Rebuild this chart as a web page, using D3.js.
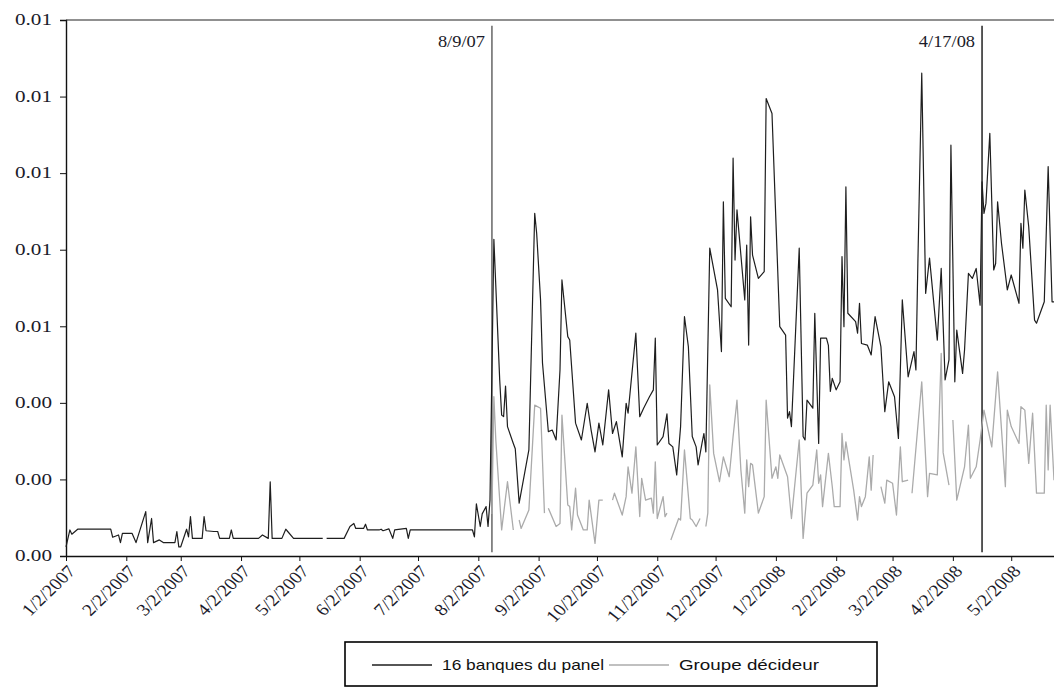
<!DOCTYPE html>
<html>
<head>
<meta charset="utf-8">
<script src="https://cdn.jsdelivr.net/npm/d3@7"></script>
<style>
  body { margin: 0; background: #fff; }
  svg { display: block; }
</style>
</head>
<body>
<svg id="chart" width="1054" height="687"></svg>
<script>
// ── Data ─────────────────────────────────────────────────────────
const monthTicks = ['1/2/2007', '2/2/2007', '3/2/2007', '4/2/2007', '5/2/2007', '6/2/2007',
  '7/2/2007', '8/2/2007', '9/2/2007', '10/2/2007', '11/2/2007', '12/2/2007',
  '1/2/2008', '2/2/2008', '3/2/2008', '4/2/2008', '5/2/2008'];

const yTicks = [0, 0.002, 0.004, 0.006, 0.008, 0.010, 0.012, 0.014];

const events = [
  { label: '8/9/07', date: '2007-08-09', color: '#666' },
  { label: '4/17/08', date: '2008-04-17', color: '#222' },
];

const seriesNames = ['16 banques du panel', 'Groupe décideur'];

// 16 banques du panel (black line); null = gap in the data
const panelSeries = [
  ['2007-01-02', 0.00024], ['2007-01-04', 0.00068], ['2007-01-05', 0.00057], ['2007-01-08', 0.0007],
  ['2007-01-25', 0.0007], ['2007-01-26', 0.00049], ['2007-01-29', 0.00055], ['2007-01-30', 0.00035],
  ['2007-01-31', 0.00059], ['2007-02-05', 0.00059], ['2007-02-07', 0.00035], ['2007-02-12', 0.00116],
  ['2007-02-13', 0.00035], ['2007-02-15', 0.00098], ['2007-02-16', 0.00035], ['2007-02-19', 0.00042],
  ['2007-02-21', 0.00035], ['2007-02-27', 0.00035], ['2007-02-28', 0.00064], ['2007-03-01', 0.00024],
  ['2007-03-02', 0.00024], ['2007-03-05', 0.0007], ['2007-03-06', 0.0005], ['2007-03-07', 0.00103],
  ['2007-03-08', 0.00046], ['2007-03-13', 0.00046], ['2007-03-14', 0.00103], ['2007-03-15', 0.00066],
  ['2007-03-19', 0.00064], ['2007-03-21', 0.00064], ['2007-03-22', 0.00046], ['2007-03-27', 0.00046],
  ['2007-03-28', 0.00068], ['2007-03-29', 0.00046], ['2007-04-11', 0.00046], ['2007-04-13', 0.00055],
  ['2007-04-16', 0.00046], ['2007-04-17', 0.00194], ['2007-04-18', 0.00046], ['2007-04-23', 0.00046],
  ['2007-04-25', 0.0007], ['2007-04-26', 0.00064], ['2007-04-29', 0.00046], ['2007-05-14', 0.00046],
  ['2007-05-15', null], ['2007-05-16', 0.00046], ['2007-05-25', 0.00046], ['2007-05-28', 0.00077],
  ['2007-05-30', 0.00085], ['2007-05-31', 0.00072], ['2007-06-04', 0.00072], ['2007-06-05', 0.00083],
  ['2007-06-06', 0.00068], ['2007-06-12', 0.00068], ['2007-06-13', 0.0007], ['2007-06-14', 0.00066],
  ['2007-06-17', 0.00071], ['2007-06-19', 0.00046], ['2007-06-20', 0.00068], ['2007-06-26', 0.00072],
  ['2007-06-27', 0.00046], ['2007-06-28', 0.00068], ['2007-07-30', 0.00068], ['2007-07-31', 0.0005],
  ['2007-08-01', 0.00136], ['2007-08-03', 0.00077], ['2007-08-04', 0.0011], ['2007-08-06', 0.00129],
  ['2007-08-07', 0.00077], ['2007-08-08', 0.00146], ['2007-08-10', 0.00827], ['2007-08-13', 0.0046],
  ['2007-08-14', 0.00368], ['2007-08-15', 0.00364], ['2007-08-16', 0.00444], ['2007-08-17', 0.00338],
  ['2007-08-20', 0.00294], ['2007-08-21', 0.0028], ['2007-08-23', 0.00138], ['2007-08-28', 0.00277],
  ['2007-08-31', 0.00895], ['2007-09-01', 0.00843], ['2007-09-03', 0.00669], ['2007-09-04', 0.00504],
  ['2007-09-07', 0.00325], ['2007-09-09', 0.00329], ['2007-09-11', 0.00303], ['2007-09-13', 0.00486],
  ['2007-09-14', 0.00721], ['2007-09-17', 0.00573], ['2007-09-18', 0.00564], ['2007-09-21', 0.00347],
  ['2007-09-24', 0.00303], ['2007-09-27', 0.00399], ['2007-09-29', 0.00329], ['2007-10-01', 0.00272],
  ['2007-10-03', 0.00347], ['2007-10-05', 0.0029], ['2007-10-08', 0.00434], ['2007-10-10', 0.0032],
  ['2007-10-12', 0.00351], ['2007-10-15', 0.00259], ['2007-10-17', 0.00399], ['2007-10-18', 0.00373],
  ['2007-10-19', 0.00425], ['2007-10-22', 0.00582], ['2007-10-24', 0.00364], ['2007-10-26', 0.00386],
  ['2007-10-29', 0.00416], ['2007-10-31', 0.00434], ['2007-11-01', 0.00569], ['2007-11-02', 0.0029],
  ['2007-11-05', 0.00312], ['2007-11-07', 0.00371], ['2007-11-08', 0.00294], ['2007-11-10', 0.00285],
  ['2007-11-12', 0.00212], ['2007-11-14', 0.00338], ['2007-11-16', 0.00625], ['2007-11-18', 0.00547],
  ['2007-11-20', 0.00312], ['2007-11-22', 0.00285], ['2007-11-23', 0.00238], ['2007-11-25', 0.00294],
  ['2007-11-26', 0.0032], ['2007-11-27', 0.00272], ['2007-11-29', 0.00804], ['2007-12-03', 0.00695],
  ['2007-12-05', 0.00534], ['2007-12-06', 0.00925], ['2007-12-07', 0.00673], ['2007-12-10', 0.00651],
  ['2007-12-11', 0.01039], ['2007-12-12', 0.00773], ['2007-12-13', 0.00904], ['2007-12-17', 0.00669],
  ['2007-12-18', 0.00812], ['2007-12-19', 0.00551], ['2007-12-20', 0.00886], ['2007-12-21', 0.00786],
  ['2007-12-24', 0.00725], ['2007-12-27', 0.00743], ['2007-12-28', 0.01195], ['2007-12-31', 0.01156],
  ['2008-01-04', 0.00599], ['2008-01-07', 0.00577], ['2008-01-08', 0.0036], ['2008-01-09', 0.00377],
  ['2008-01-10', 0.00338], ['2008-01-14', 0.00804], ['2008-01-16', 0.00312], ['2008-01-17', 0.00303],
  ['2008-01-18', 0.00407], ['2008-01-21', 0.00386], ['2008-01-22', 0.00634], ['2008-01-24', 0.00294],
  ['2008-01-25', 0.00569], ['2008-01-28', 0.00569], ['2008-01-29', 0.0055], ['2008-01-30', 0.0043],
  ['2008-01-31', 0.00464], ['2008-02-02', 0.00434], ['2008-02-04', 0.00455], ['2008-02-05', 0.00782],
  ['2008-02-06', 0.00599], ['2008-02-07', 0.00964], ['2008-02-08', 0.00634], ['2008-02-12', 0.00612],
  ['2008-02-13', 0.00582], ['2008-02-14', 0.0066], ['2008-02-15', 0.00555], ['2008-02-18', 0.00551],
  ['2008-02-20', 0.00525], ['2008-02-22', 0.00625], ['2008-02-25', 0.00547], ['2008-02-27', 0.00377],
  ['2008-02-29', 0.00455], ['2008-03-03', 0.00416], ['2008-03-05', 0.00307], ['2008-03-07', 0.00669],
  ['2008-03-10', 0.00468], ['2008-03-13', 0.00534], ['2008-03-14', 0.00486], ['2008-03-15', 0.00764],
  ['2008-03-17', 0.01261], ['2008-03-19', 0.00686], ['2008-03-21', 0.00778], ['2008-03-25', 0.00564],
  ['2008-03-27', 0.00751], ['2008-03-29', 0.0046], ['2008-03-31', 0.00512], ['2008-04-01', 0.01073],
  ['2008-04-03', 0.00455], ['2008-04-04', 0.0059], ['2008-04-07', 0.00477], ['2008-04-08', 0.00538],
  ['2008-04-10', 0.00738], ['2008-04-12', 0.00725], ['2008-04-14', 0.00751], ['2008-04-16', 0.00655],
  ['2008-04-17', 0.00977], ['2008-04-18', 0.00895], ['2008-04-19', 0.00921], ['2008-04-21', 0.01104],
  ['2008-04-23', 0.00747], ['2008-04-24', 0.00764], ['2008-04-25', 0.00925], ['2008-04-27', 0.00817],
  ['2008-04-30', 0.00695], ['2008-05-02', 0.00734], ['2008-05-06', 0.0066], ['2008-05-07', 0.00869],
  ['2008-05-08', 0.00804], ['2008-05-09', 0.00956], ['2008-05-11', 0.0086], ['2008-05-14', 0.00616],
  ['2008-05-15', 0.00608], ['2008-05-19', 0.00664], ['2008-05-21', 0.01017], ['2008-05-23', 0.00664],
  ['2008-05-24', 0.00664],
];

// Groupe décideur (grey line); null = gap in the data
const deciderSeries = [
  ['2007-08-09', 0.0011], ['2007-08-10', 0.00416], ['2007-08-11', 0.00303], ['2007-08-14', 0.00068],
  ['2007-08-17', 0.00194], ['2007-08-20', 0.00068], ['2007-08-21', null], ['2007-08-23', 0.00094],
  ['2007-08-24', 0.00072], ['2007-08-28', 0.0012], ['2007-08-31', 0.00394], ['2007-09-03', 0.00386],
  ['2007-09-05', 0.00112], ['2007-09-06', null], ['2007-09-07', 0.00125], ['2007-09-11', 0.00077],
  ['2007-09-13', 0.00085], ['2007-09-14', 0.00368], ['2007-09-17', 0.00133], ['2007-09-18', 0.00129],
  ['2007-09-19', 0.00068], ['2007-09-21', 0.00177], ['2007-09-22', 0.00107], ['2007-09-25', 0.00068],
  ['2007-09-27', 0.00068], ['2007-09-28', 0.00146], ['2007-10-01', 0.00033], ['2007-10-03', 0.00146],
  ['2007-10-05', 0.00146], ['2007-10-07', null], ['2007-10-10', 0.00146], ['2007-10-11', 0.00164],
  ['2007-10-15', 0.00107], ['2007-10-17', 0.00155], ['2007-10-18', 0.00233], ['2007-10-20', 0.00164],
  ['2007-10-22', 0.00285], ['2007-10-24', 0.00103], ['2007-10-25', 0.00203], ['2007-10-27', 0.00146],
  ['2007-10-30', 0.00151], ['2007-10-31', 0.00112], ['2007-11-01', 0.00246], ['2007-11-02', 0.00098],
  ['2007-11-05', 0.00155], ['2007-11-06', 0.00103], ['2007-11-07', 0.00112], ['2007-11-08', null],
  ['2007-11-09', 0.00042], ['2007-11-13', 0.00098], ['2007-11-14', 0.00094], ['2007-11-16', 0.00277],
  ['2007-11-19', 0.00098], ['2007-11-20', 0.00094], ['2007-11-22', 0.00077], ['2007-11-24', 0.00098],
  ['2007-11-25', null], ['2007-11-27', 0.00077], ['2007-11-28', 0.00112], ['2007-11-29', 0.00447],
  ['2007-12-01', 0.00268], ['2007-12-04', 0.00194], ['2007-12-06', 0.00259], ['2007-12-09', 0.00207],
  ['2007-12-11', 0.00312], ['2007-12-13', 0.00407], ['2007-12-15', 0.00225], ['2007-12-17', 0.00112],
  ['2007-12-18', 0.00251], ['2007-12-19', 0.00181], ['2007-12-20', 0.00242], ['2007-12-21', 0.00238],
  ['2007-12-24', 0.00112], ['2007-12-27', 0.00155], ['2007-12-28', 0.00407], ['2007-12-31', 0.00203],
  ['2008-01-02', 0.00233], ['2008-01-03', 0.00203], ['2008-01-04', 0.00264], ['2008-01-08', 0.00207],
  ['2008-01-10', 0.00098], ['2008-01-14', 0.00303], ['2008-01-16', 0.00046], ['2008-01-18', 0.00164],
  ['2008-01-21', 0.00185], ['2008-01-23', 0.00277], ['2008-01-24', 0.0019], ['2008-01-25', 0.00212],
  ['2008-01-26', 0.00129], ['2008-01-29', 0.00268], ['2008-01-31', 0.00181], ['2008-02-01', 0.00129],
  ['2008-02-04', 0.00129], ['2008-02-05', 0.0032], ['2008-02-06', 0.00251], ['2008-02-07', 0.00298],
  ['2008-02-11', 0.00172], ['2008-02-13', 0.00094], ['2008-02-14', 0.00155], ['2008-02-15', 0.00129],
  ['2008-02-17', 0.00155], ['2008-02-19', 0.00259], ['2008-02-20', 0.00172], ['2008-02-21', 0.00264],
  ['2008-02-23', null], ['2008-02-25', 0.00181], ['2008-02-27', 0.00138], ['2008-02-28', 0.00198],
  ['2008-03-02', 0.0019], ['2008-03-04', 0.00107], ['2008-03-06', 0.00285], ['2008-03-07', 0.00194],
  ['2008-03-10', 0.00198], ['2008-03-11', null], ['2008-03-12', 0.00164], ['2008-03-17', 0.00455],
  ['2008-03-20', 0.00155], ['2008-03-21', 0.00216], ['2008-03-25', 0.00212], ['2008-03-27', 0.00529],
  ['2008-03-28', 0.0027], ['2008-03-31', 0.00185], ['2008-04-01', null], ['2008-04-02', 0.00355],
  ['2008-04-04', 0.00146], ['2008-04-08', 0.00233], ['2008-04-10', 0.00342], ['2008-04-11', 0.00203],
  ['2008-04-14', 0.00233], ['2008-04-16', 0.00303], ['2008-04-18', 0.00381], ['2008-04-22', 0.00285],
  ['2008-04-25', 0.00481], ['2008-04-29', 0.00181], ['2008-04-30', 0.00381], ['2008-05-02', 0.00338],
  ['2008-05-06', 0.00294], ['2008-05-07', 0.0039], ['2008-05-09', 0.00381], ['2008-05-11', 0.00242],
  ['2008-05-13', 0.00373], ['2008-05-15', 0.00164], ['2008-05-19', 0.00164], ['2008-05-20', 0.00394],
  ['2008-05-21', 0.00225], ['2008-05-22', 0.00394], ['2008-05-24', 0.00198],
];

// ── Layout ───────────────────────────────────────────────────────
const W = 1054, H = 687;
const margin = { top: 20, right: 0, bottom: 131, left: 66 };
const stretch = 1.15;              // the source scan is a bit wider than tall
const serif = '"Liberation Serif", "Times New Roman", serif';
const sans = '"Liberation Sans", Arial, sans-serif';

const parseIso = d3.timeParse('%Y-%m-%d');
const parseTick = d3.timeParse('%m/%d/%Y');

const svg = d3.select('#chart');

const x = d3.scaleTime()
  .domain([parseIso('2007-01-02'), parseIso('2008-05-24')])
  .range([margin.left, W - margin.right]);

const y = d3.scaleLinear()
  .domain([0, 0.014])
  .range([H - margin.bottom, margin.top]);

// ── Axes ─────────────────────────────────────────────────────────
const yAxis = svg.append('g')
  .attr('transform', `translate(${margin.left},0)`)
  .call(d3.axisLeft(y).tickValues(yTicks).tickFormat('').tickSize(6));

yAxis.select('.domain').attr('stroke', '#111').attr('stroke-width', 1.4);
yAxis.selectAll('.tick line').attr('stroke', '#111');

// y labels drawn as plain text so their right edge sits just left of the ticks
const fmtY = d3.format('.2f');
svg.append('g')
  .selectAll('text')
  .data(yTicks)
  .join('text')
  .attr('x', margin.left - 14)
  .attr('y', d => y(d))
  .attr('dy', '0.33em')
  .attr('text-anchor', 'end')
  .attr('font-family', serif)
  .attr('font-size', 16)
  .attr('textLength', 37)
  .attr('lengthAdjust', 'spacingAndGlyphs')
  .attr('fill', '#1b1b2a')
  .text(d => fmtY(d));

const xAxis = svg.append('g')
  .attr('transform', `translate(0,${y(0)})`)
  .call(d3.axisBottom(x).tickValues(monthTicks.map(parseTick)).tickFormat(d3.timeFormat('%-m/%-d/%Y')).tickSize(5).tickSizeOuter(0));

xAxis.select('.domain').attr('stroke', '#111').attr('stroke-width', 1.4);
xAxis.selectAll('.tick line').attr('stroke', '#111');
xAxis.selectAll('.tick text')
  .attr('font-family', serif)
  .attr('font-size', 17)
  .attr('fill', '#1b1b2a')
  .attr('text-anchor', 'end')
  .attr('x', 0).attr('y', 0).attr('dy', '0.35em')
  .attr('transform', `translate(5,12) scale(${stretch},1) rotate(-48)`);

// top frame line
svg.append('line')
  .attr('x1', margin.left).attr('x2', W)
  .attr('y1', y(0.014)).attr('y2', y(0.014))
  .attr('stroke', '#222').attr('stroke-width', 1.2);

// ── Event markers ────────────────────────────────────────────────
events.forEach(ev => {
  const ex = x(parseIso(ev.date));
  svg.append('line')
    .attr('x1', ex).attr('x2', ex)
    .attr('y1', y(0.01385)).attr('y2', y(0.0001))
    .attr('stroke', ev.color).attr('stroke-width', 1.5);
  svg.append('text')
    .attr('transform', `translate(${ex - 7},${y(0.0133)}) scale(${stretch},1)`)
    .attr('text-anchor', 'end')
    .attr('font-family', serif)
    .attr('font-size', 16)
    .attr('fill', '#1b1b2a')
    .text(ev.label);
});

// ── Lines ────────────────────────────────────────────────────────
const line = d3.line()
  .defined(d => d[1] !== null)
  .x(d => x(parseIso(d[0])))
  .y(d => y(d[1]));

svg.append('path')
  .datum(deciderSeries)
  .attr('d', line)
  .attr('fill', 'none')
  .attr('stroke', '#ababab')
  .attr('stroke-width', 1.3)
  .attr('stroke-linejoin', 'round');

svg.append('path')
  .datum(panelSeries)
  .attr('d', line)
  .attr('fill', 'none')
  .attr('stroke', '#1e1e1e')
  .attr('stroke-width', 1.2)
  .attr('stroke-linejoin', 'round');

// ── Legend ───────────────────────────────────────────────────────
const legend = svg.append('g').attr('transform', 'translate(345,642)');
legend.append('rect')
  .attr('width', 532).attr('height', 44)
  .attr('fill', '#fff').attr('stroke', '#000').attr('stroke-width', 1.6);

const legendItems = [
  { name: seriesNames[0], color: '#1e1e1e', x0: 27, w: 162 },
  { name: seriesNames[1], color: '#ababab', x0: 264, w: 140 },
];
legendItems.forEach(it => {
  legend.append('line')
    .attr('x1', it.x0).attr('x2', it.x0 + 60)
    .attr('y1', 23).attr('y2', 23)
    .attr('stroke', it.color).attr('stroke-width', 1.3);
  legend.append('text')
    .attr('x', it.x0 + 70).attr('y', 28)
    .attr('font-family', sans)
    .attr('font-size', 15)
    .attr('textLength', it.w)
    .attr('lengthAdjust', 'spacingAndGlyphs')
    .attr('fill', '#111')
    .text(it.name);
});
</script>
</body>
</html>
